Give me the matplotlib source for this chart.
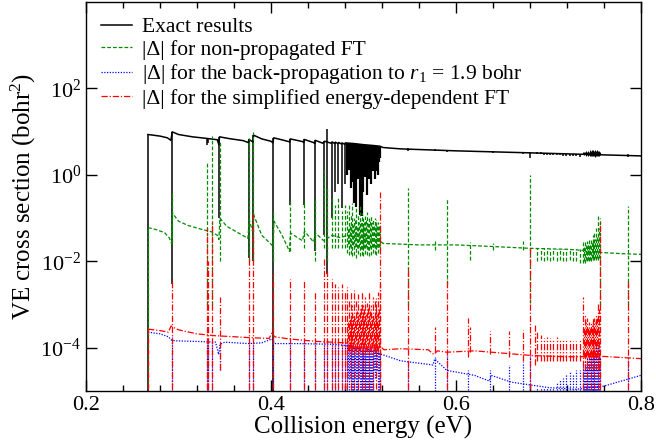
import numpy as np
import matplotlib
matplotlib.use('Agg')
import matplotlib.pyplot as plt
from matplotlib.ticker import MultipleLocator, NullLocator, FormatStrFormatter

plt.rcParams['font.family'] = ['Liberation Serif', 'DejaVu Serif']
plt.rcParams['mathtext.fontset'] = 'custom'
plt.rcParams['mathtext.rm'] = 'Liberation Serif'
plt.rcParams['mathtext.it'] = 'Liberation Serif:italic'

# ---- exact results (black): smooth background with jumps at resonances
bk_E = [0.2671, 0.280, 0.288, 0.2918, 0.2932, 0.300, 0.315, 0.330, 0.342, 0.3436, 0.3444, 0.355, 0.370,
        0.3754, 0.3762, 0.3804, 0.3812, 0.390, 0.400, 0.4021, 0.4029, 0.414, 0.4202, 0.4208, 0.434, 0.4355,
        0.4360, 0.446, 0.4474, 0.4479, 0.456, 0.4580, 0.4650, 0.4660, 0.4690, 0.4696, 0.4725, 0.4731,
        0.4761, 0.4767, 0.4797, 0.4803, 0.490, 0.500, 0.510, 0.518, 0.521, 0.540, 0.600, 0.700, 0.800]
bk_v = [8.6, 7.9, 7.2, 6.3, 9.9, 8.6, 7.6, 7.0, 6.5, 5.0, 7.6, 6.9, 6.2,
        5.6, 6.6, 5.8, 8.3, 6.8, 6.0, 5.5, 7.2, 6.3, 5.8, 6.8, 5.9, 5.6,
        6.6, 5.6, 5.3, 6.3, 5.4, 6.0, 5.4, 5.8, 5.3, 5.7, 5.3, 5.6,
        5.2, 5.5, 5.1, 5.5, 5.3, 5.0, 4.8, 4.6, 4.3, 4.0, 3.6, 3.15, 2.75]
bk_sp_E = [0.2671, 0.2930, 0.3304, 0.3322, 0.3440, 0.3758, 0.3809, 0.4025, 0.4205, 0.4357, 0.4476, 0.4576,
           0.4605, 0.4656, 0.4692, 0.4728, 0.4764, 0.4800, 0.5484, 0.5773, 0.5899, 0.6150, 0.6403, 0.6727,
           0.6800, 0.7860]
bk_sp_lo = [1e-6, 3e-3, 5.0, 5.5, 0.1, 1.2e-2, 1e-2, 1e-6, 0.2, 0.2, 1.7e-2, 4e-2,
            5e-3, 0.1, 0.4, 0.6, 0.17, 0.6, 3.6, 3.5, 3.4, 3.3, 3.2, 3.0,
            2.5, 2.6]
bk_sp_hi = [8.6, 9.9, 7.0, 6.9, 7.6, 6.6, 8.3, 7.2, 6.8, 6.6, 6.3, 6.0,
            11.8, 5.8, 5.7, 5.6, 5.5, 5.5, 4.1, 3.9, 3.8, 3.6, 3.5, 3.4,
            3.3, 3.0]

# dense resonance series just below 0.52 eV
dense_E = [0.4820, 0.4830, 0.4840, 0.4850, 0.4860, 0.4870, 0.4880, 0.4890, 0.4900, 0.4910, 0.4920, 0.4930,
           0.4940, 0.4950, 0.4960, 0.4970, 0.4980, 0.4990, 0.5000, 0.5010, 0.5020, 0.5030, 0.5040, 0.5050,
           0.5060, 0.5070, 0.5080, 0.5090, 0.5100, 0.5110, 0.5120, 0.5130, 0.5140, 0.5150, 0.5160, 0.5170,
           0.5180]
bk_d_lo = [1.0, 2.0, 1.3, 1.6, 0.5, 1.8, 0.7, 1.5, 0.22, 1.6, 0.18, 1.4, 0.8, 1.5, 0.12, 1.3, 0.11, 1.4,
           0.4, 1.5, 0.9, 1.3, 0.35, 1.5, 0.8, 1.4, 0.6, 1.6, 1.2, 1.5, 0.8, 1.6, 1.2, 1.8, 1.0, 2.0, 2.5]
bk_d_hi = [5.6, 5.3, 5.5, 5.2, 5.4, 5.1, 5.3, 5.2, 5.4, 5.0, 5.2, 5.0, 5.1, 4.9, 5.3, 4.9, 5.0, 4.8,
           5.0, 4.8, 4.9, 4.7, 4.9, 4.7, 4.8, 4.6, 4.8, 4.6, 4.7, 4.5, 4.7, 4.5, 4.6, 4.4, 4.6, 4.4, 4.5]
gr_d_lo = [0.016, 0.025, 0.014, 0.022, 0.015, 0.02, 0.013, 0.024, 0.014, 0.021, 0.012, 0.02, 0.015, 0.022,
           0.013, 0.019, 0.014, 0.021, 0.013, 0.02, 0.015, 0.022, 0.014, 0.018, 0.013, 0.02, 0.014, 0.021,
           0.016, 0.022, 0.015, 0.02, 0.014, 0.021, 0.016, 0.022, 0.018]
gr_d_hi = [0.15, 0.06, 0.2, 0.07, 0.12, 0.08, 0.22, 0.07, 0.1, 0.09, 0.17, 0.07, 0.12, 0.08, 0.2, 0.09,
           0.13, 0.07, 0.1, 0.08, 0.11, 0.09, 0.14, 0.08, 0.1, 0.09, 0.12, 0.08, 0.09, 0.07, 0.1, 0.08,
           0.09, 0.07, 0.08, 0.07, 0.06]
rd_d_lo = [1e-6, 9e-5, 8e-5, 1e-4, 1e-6, 9e-5, 8e-5, 1e-4, 1e-6, 9e-5, 8e-5, 1e-4, 1e-6, 9e-5,
           8e-5, 1e-4, 1e-6, 9e-5, 8e-5, 1e-4, 1e-6, 9e-5, 8e-5, 1e-4, 1e-6, 9e-5, 8e-5, 1e-4,
           1e-6, 9e-5, 8e-5, 1e-4, 1e-6, 9e-5, 8e-5, 1e-4, 1e-6]
rd_d_hi = [2.5e-3, 4e-4, 1.2e-3, 5e-4, 2e-3, 4e-4, 1e-3, 6e-4, 2.2e-3, 5e-4, 1.2e-3, 7e-4,
           1.8e-3, 6e-4, 9e-4, 1.1e-3, 2e-3, 5e-4, 1e-3, 8e-4, 1.5e-3, 6e-4, 1.1e-3, 9e-4,
           2e-3, 7e-4, 1e-3, 6e-4, 1.5e-3, 5e-4, 1.2e-3, 8e-4, 1.4e-3, 6e-4, 2e-3, 8e-4, 3e-3]
bl_d_lo = [1e-6, 2e-5, 1e-6, 2e-5, 1e-6, 2e-5, 1e-6, 1e-6, 1e-6, 2e-5, 1e-6, 1e-6, 1e-6, 2e-5,
           1e-6, 1e-6, 1e-6, 2e-5, 1e-6, 1e-6, 1e-6, 1e-6, 1e-6, 1e-6, 1e-6, 1e-6, 1e-6, 1e-6,
           1e-6, 3e-5, 2e-5, 3e-5, 2e-5, 3e-5, 1e-6, 1e-6, 1e-6]
bl_d_hi = [1.2e-4, 1.15e-4, 1.2e-4, 1.1e-4, 1.15e-4, 1.1e-4, 1.15e-4, 1.1e-4, 1.1e-4, 1.05e-4, 1.1e-4,
           1.05e-4, 1.1e-4, 1.0e-4, 1.05e-4, 1.0e-4, 1.0e-4, 1.0e-4, 1.0e-4, 1.0e-4, 1.0e-4, 1.0e-4,
           1.0e-4, 9.5e-5, 1.0e-4, 9.5e-5, 1.0e-4, 9.5e-5, 1.0e-4, 1.1e-4, 1.2e-4, 1.2e-4, 1.1e-4,
           1.0e-4, 9e-5, 8e-5, 8e-5]

# weak resonances 0.687-0.734 eV and the cluster at 0.74-0.756 eV
comb_E = [0.6872, 0.6915, 0.6950, 0.6980, 0.7020, 0.7050, 0.7087, 0.7120, 0.7157, 0.7190, 0.7229,
          0.7265, 0.7300, 0.7337]
bk_c_lo = [3.0, 3.0, 2.95, 2.95, 2.9, 2.9, 2.85, 2.85, 2.8, 2.8, 2.75, 2.7, 2.7, 2.6]
bk_c_hi = [3.3, 3.3, 3.25, 3.25, 3.2, 3.2, 3.2, 3.15, 3.15, 3.1, 3.1, 3.1, 3.05, 3.1]
gr_c_lo = [0.010, 0.011, 0.010, 0.011, 0.010, 0.011, 0.010, 0.011, 0.010, 0.010, 0.011, 0.010, 0.010, 0.009]
gr_c_hi = [0.020, 0.020, 0.020, 0.020, 0.019, 0.019, 0.019, 0.019, 0.019, 0.019, 0.019, 0.019, 0.019, 0.019]
rd_c_lo = [5e-5, 5e-5, 5e-5, 5e-5, 5e-5, 5e-5, 5e-5, 5e-5, 5e-5, 5e-5, 5e-5, 5e-5, 5e-5, 5e-5]
rd_c_hi = [2.4e-4, 2e-4, 1.7e-4, 1.8e-4, 1.7e-4, 1.6e-4, 1.8e-4, 1.6e-4, 1.5e-4, 1.6e-4, 1.5e-4,
           1.4e-4, 1.4e-4, 1.5e-4]
bl_c_lo = [1e-6, 1e-6, 1e-6, 1e-6, 1e-6, 1e-6, 1e-6, 1e-6, 1e-6, 1e-6, 1e-6, 1e-6, 1e-6, 1e-6]
bl_c_hi = [1.2e-5, 1.2e-5, 1.2e-5, 1.2e-5, 1.2e-5, 1.2e-5, 1.5e-5, 1.8e-5, 2e-5, 2.4e-5, 2.8e-5,
           2.5e-5, 3e-5, 3e-5]

cl_E = [0.7376, 0.7386, 0.7396, 0.7406, 0.7416, 0.7426, 0.7436, 0.7446, 0.7456, 0.7466, 0.7476,
        0.7486, 0.7496, 0.7506, 0.7516, 0.7526, 0.7536, 0.7546, 0.7556]
bk_cl_lo = [3.0, 2.9, 3.0, 2.8, 2.9, 2.8, 2.9, 2.7, 2.8, 2.8, 2.9, 2.7, 2.8, 2.6, 2.8, 2.7, 2.8, 2.7, 2.9]
bk_cl_hi = [3.3, 3.4, 3.3, 3.5, 3.4, 3.6, 3.4, 3.7, 3.5, 3.8, 3.5, 3.8, 3.6, 3.7, 3.6, 3.8, 3.6, 3.5, 3.3]
gr_cl_lo = [0.009, 0.010, 0.009, 0.011, 0.010, 0.011, 0.010, 0.011, 0.010, 0.012, 0.011, 0.012,
            0.011, 0.012, 0.011, 0.012, 0.011, 0.012, 1e-3]
gr_cl_hi = [0.03, 0.022, 0.028, 0.024, 0.03, 0.025, 0.032, 0.026, 0.035, 0.028, 0.04, 0.03,
            0.045, 0.032, 0.06, 0.04, 0.12, 0.06, 0.1]
rd_cl_lo = [1e-6, 6e-5, 3e-5, 6e-5, 1e-6, 6e-5, 3e-5, 6e-5, 1e-6, 6e-5, 3e-5, 6e-5,
            1e-6, 6e-5, 3e-5, 6e-5, 1e-6, 3e-5, 1e-6]
rd_cl_hi = [1.5e-3, 3e-4, 6e-4, 4e-4, 5e-4, 3e-4, 4e-4, 3e-4, 4e-4, 3.5e-4, 5e-4, 4e-4,
            5e-4, 4e-4, 6e-4, 5e-4, 1.1e-3, 8e-4, 8e-2]
bl_cl_lo = [1e-6, 1e-6, 1e-6, 1e-6, 1e-6, 1e-6, 1e-6, 1e-6, 1e-6, 1e-6, 1e-6, 1e-6, 1e-6, 1e-6,
            1e-6, 1e-6, 1e-6, 1e-6, 1e-6]
bl_cl_hi = [4e-5, 3e-5, 5e-5, 4e-5, 6e-5, 5e-5, 7e-5, 6e-5, 8e-5, 6e-5, 9e-5, 7e-5, 1e-4, 8e-5,
            1.1e-4, 9e-5, 1.2e-4, 1e-4, 6e-5]

# ---- |Delta| non-propagated FT (green)
gr_E = [0.2671, 0.275, 0.285, 0.290, 0.2925, 0.2935, 0.300, 0.310, 0.325, 0.336, 0.342, 0.3437, 0.3447,
        0.352, 0.365, 0.3750, 0.3765, 0.3800, 0.3812, 0.390, 0.4000, 0.4022, 0.4032, 0.412, 0.4200, 0.4210,
        0.434, 0.4362, 0.446, 0.4482, 0.457, 0.466, 0.475, 0.482, 0.500, 0.518, 0.521, 0.540, 0.560,
        0.600, 0.640, 0.680, 0.720, 0.737, 0.757, 0.780, 0.800]
gr_v = [0.060, 0.055, 0.046, 0.035, 0.026, 0.13, 0.085, 0.068, 0.055, 0.048, 0.040, 0.032, 0.10,
        0.065, 0.045, 0.034, 0.09, 0.05, 0.12, 0.040, 0.025, 0.022, 0.085, 0.04, 0.017, 0.045,
        0.03, 0.05, 0.028, 0.045, 0.03, 0.04, 0.035, 0.04, 0.035, 0.03, 0.026, 0.025, 0.024,
        0.024, 0.022, 0.020, 0.019, 0.018, 0.016, 0.015, 0.0145]
gr_sp_E = [0.2671, 0.2930, 0.3304, 0.3357, 0.3447, 0.3758, 0.3809, 0.4025, 0.4205, 0.4357, 0.4476,
           0.4576, 0.4605, 0.4656, 0.4692, 0.4728, 0.4764, 0.4800, 0.5484, 0.5773, 0.5899, 0.6150,
           0.6403, 0.6727, 0.6800, 0.7860]
gr_sp_lo = [1e-6, 0.026, 1e-3, 1e-3, 0.01, 0.01, 0.01, 0.01, 0.017, 0.02, 0.01,
            0.02, 0.01, 0.02, 0.02, 0.02, 0.02, 0.02, 1e-3, 0.018, 3e-3, 0.011,
            0.018, 0.018, 1.1e-3, 1e-3]
gr_sp_hi = [0.06, 0.4, 2.0, 8.0, 6.0, 7.0, 10.0, 0.14, 0.25, 0.25, 0.3,
            1.5, 0.5, 0.3, 0.2, 0.3, 0.15, 0.2, 0.5, 0.03, 0.27, 0.028,
            0.026, 0.03, 1.0, 0.19]

# ---- |Delta| back-propagation (blue)
bl_E = [0.2671, 0.280, 0.289, 0.2925, 0.296, 0.320, 0.340, 0.3435, 0.3450, 0.350, 0.375, 0.390, 0.401,
        0.404, 0.430, 0.470, 0.500, 0.520, 0.540, 0.575, 0.577, 0.590, 0.620, 0.636, 0.638, 0.660, 0.700,
        0.730, 0.760, 0.800]
bl_v = [2.3e-4, 2.1e-4, 1.8e-4, 1.5e-4, 1.45e-4, 1.4e-4, 1.35e-4, 7e-5, 1.2e-4, 1.35e-4, 1.25e-4, 1.3e-4,
        1.6e-4, 1.25e-4, 1.25e-4, 1.2e-4, 1.0e-4, 7e-5, 5e-5, 4e-5, 5.5e-5, 3e-5, 2.3e-5, 1.7e-5, 2.3e-5,
        1.6e-5, 1.2e-5, 1.1e-5, 1.3e-5, 2.3e-5]
bl_sp_E = [0.2930, 0.3304, 0.3322, 0.3360, 0.3447, 0.3758, 0.3809, 0.4025, 0.4205, 0.4357, 0.4476,
           0.4576, 0.4605, 0.4656, 0.4692, 0.4728, 0.4764, 0.4800, 0.5484, 0.5773, 0.5899, 0.6125,
           0.6370, 0.6570, 0.6727, 0.6800, 0.7860]
bl_sp_lo = [1e-6, 1e-6, 1e-6, 1e-6, 3e-5, 1e-6, 1e-6, 1e-6, 1e-6, 1e-6, 1e-6,
            1e-6, 1e-6, 1e-6, 1e-6, 1e-6, 1e-6, 1e-6, 1e-6, 1e-5, 1e-6, 1e-6,
            1e-6, 1e-6, 1e-6, 1e-6, 1e-6]
bl_sp_hi = [1.8e-4, 1.4e-4, 1.4e-4, 1.4e-4, 1.3e-4, 1.25e-4, 1.3e-4, 1.6e-4, 1.25e-4, 1.25e-4, 1.25e-4,
            1.2e-4, 1.2e-4, 1.2e-4, 1.2e-4, 1.2e-4, 1.2e-4, 1.2e-4, 5e-5, 6e-5, 6.6e-5, 3e-5,
            3e-5, 4e-5, 4.8e-5, 6.6e-5, 5.6e-5]

# ---- |Delta| simplified energy-dependent FT (red)
rd_E = [0.2671, 0.280, 0.289, 0.2920, 0.2940, 0.300, 0.320, 0.340, 0.360, 0.380, 0.398, 0.4015, 0.4035,
        0.420, 0.450, 0.480, 0.500, 0.518, 0.522, 0.540, 0.570, 0.576, 0.580, 0.590, 0.620, 0.683, 0.720,
        0.760, 0.800]
rd_v = [2.7e-4, 2.5e-4, 2.3e-4, 3.2e-4, 3.0e-4, 2.6e-4, 2.1e-4, 1.9e-4, 1.8e-4, 1.7e-4, 1.65e-4, 2.3e-4,
        1.8e-4, 1.6e-4, 1.4e-4, 1.3e-4, 1.2e-4, 1.1e-4, 9e-5, 9.5e-5, 9e-5, 7e-5, 8.5e-5, 7.9e-5, 8.5e-5,
        6.6e-5, 6.2e-5, 6.3e-5, 5.6e-5]
rd_sp_E = [0.2671, 0.2930, 0.3304, 0.3322, 0.3360, 0.3447, 0.3758, 0.3809, 0.4025, 0.4205, 0.4357,
           0.4476, 0.4576, 0.4605, 0.4656, 0.4692, 0.4728, 0.4764, 0.4800, 0.5180, 0.5484, 0.5773,
           0.5899, 0.6125, 0.6150, 0.6370, 0.6570, 0.6727, 0.6800, 0.6855, 0.7860]
rd_sp_lo = [1e-6, 1e-6, 1e-6, 1e-6, 1e-6, 3e-5, 1e-6, 1e-6, 1e-6, 1e-6, 1e-6,
            1e-6, 1e-6, 1e-6, 1e-6, 1e-6, 1e-6, 1e-6, 1e-6, 1e-6, 1e-6, 8e-5,
            1e-6, 6e-5, 8e-5, 7e-5, 6e-5, 5e-5, 1e-6, 4e-5, 1e-6]
rd_sp_hi = [2.7e-4, 3.9e-3, 6e-2, 1e-2, 8e-2, 1.5e-3, 1.3e-2, 0.14, 5e-3, 4e-3, 3.5e-3,
            2e-3, 1.2e-2, 6e-3, 4e-3, 3e-3, 2.5e-3, 3e-3, 2e-3, 0.4, 8e-3, 3e-4,
            4e-3, 5e-4, 3e-4, 2.5e-4, 2.4e-4, 2.6e-4, 0.02, 3.5e-4, 3.7e-3]

labels = ['Exact results',
          '|Δ| for non-propagated FT',
          '|Δ| for the back-propagation to $r_1$ = 1.9 bohr',
          '|Δ| for the simplified energy-dependent FT']

fig = plt.figure(figsize=(6.56, 4.44), dpi=100)
ax = fig.add_axes([86 / 656, 53 / 444, 555 / 656, 389 / 444])

styles = [dict(color='black', ls='-', lw=1.1),
          dict(color='#008b00', ls=(0, (3, 1.6)), lw=0.9),
          dict(color='#0000ff', ls=(0, (1, 1.2)), lw=0.9),
          dict(color='#ff0000', ls=(0, (5, 1.5, 1, 1.5)), lw=0.9)]

series = [
    (bk_E, bk_v, [(bk_sp_E, bk_sp_lo, bk_sp_hi), (dense_E, bk_d_lo, bk_d_hi), (comb_E, bk_c_lo, bk_c_hi),
                  (cl_E, bk_cl_lo, bk_cl_hi)]),
    (gr_E, gr_v, [(gr_sp_E, gr_sp_lo, gr_sp_hi), (dense_E, gr_d_lo, gr_d_hi), (comb_E, gr_c_lo, gr_c_hi),
                  (cl_E, gr_cl_lo, gr_cl_hi)]),
    (bl_E, bl_v, [(bl_sp_E, bl_sp_lo, bl_sp_hi), (dense_E, bl_d_lo, bl_d_hi), (comb_E, bl_c_lo, bl_c_hi),
                  (cl_E, bl_cl_lo, bl_cl_hi)]),
    (rd_E, rd_v, [(rd_sp_E, rd_sp_lo, rd_sp_hi), (dense_E, rd_d_lo, rd_d_hi), (comb_E, rd_c_lo, rd_c_hi),
                  (cl_E, rd_cl_lo, rd_cl_hi)]),
]

for i, ((E, v, spikes), st, lab) in enumerate(zip(series, styles, labels)):
    ax.plot(E, v, color=st['color'], ls=st['ls'], lw=st['lw'], label=lab)
    for j, (sE, lo, hi) in enumerate(spikes):
        # the dense black block is drawn a bit heavier so it reads as solid
        lw = 1.6 if (i == 0 and j == 1) else (0.7 if (i == 0 and j == 3) else st['lw'])
        ax.vlines(sE, lo, hi, colors=st['color'], linestyles=[st['ls']], lw=lw)

ax.set_yscale('log')
ax.set_xlim(0.2, 0.8)
ax.set_ylim(1e-5, 1e4)
ax.xaxis.set_major_locator(MultipleLocator(0.2))
ax.xaxis.set_minor_locator(MultipleLocator(0.04))
ax.xaxis.set_major_formatter(FormatStrFormatter('%.1f'))
ax.set_yticks([1e-4, 1e-2, 1e0, 1e2])
ax.yaxis.set_minor_locator(NullLocator())
ax.tick_params(which='both', direction='in', top=True, right=True, labelsize=16)
ax.tick_params(which='major', length=8, width=1)
ax.tick_params(which='minor', length=4, width=1)
for s in ax.spines.values():
    s.set_linewidth(1.0)

ax.set_xlabel('Collision energy (eV)', fontsize=18, labelpad=1)
ax.set_ylabel('VE cross section (bohr$^2$)', fontsize=18, labelpad=2)

ax.legend(loc='upper left', frameon=False, fontsize=15.5, handlelength=1.45, handletextpad=0.45,
          labelspacing=0.12, borderaxespad=0.3, bbox_to_anchor=(0.0, 1.0))

fig.savefig('out.png', dpi=100)
